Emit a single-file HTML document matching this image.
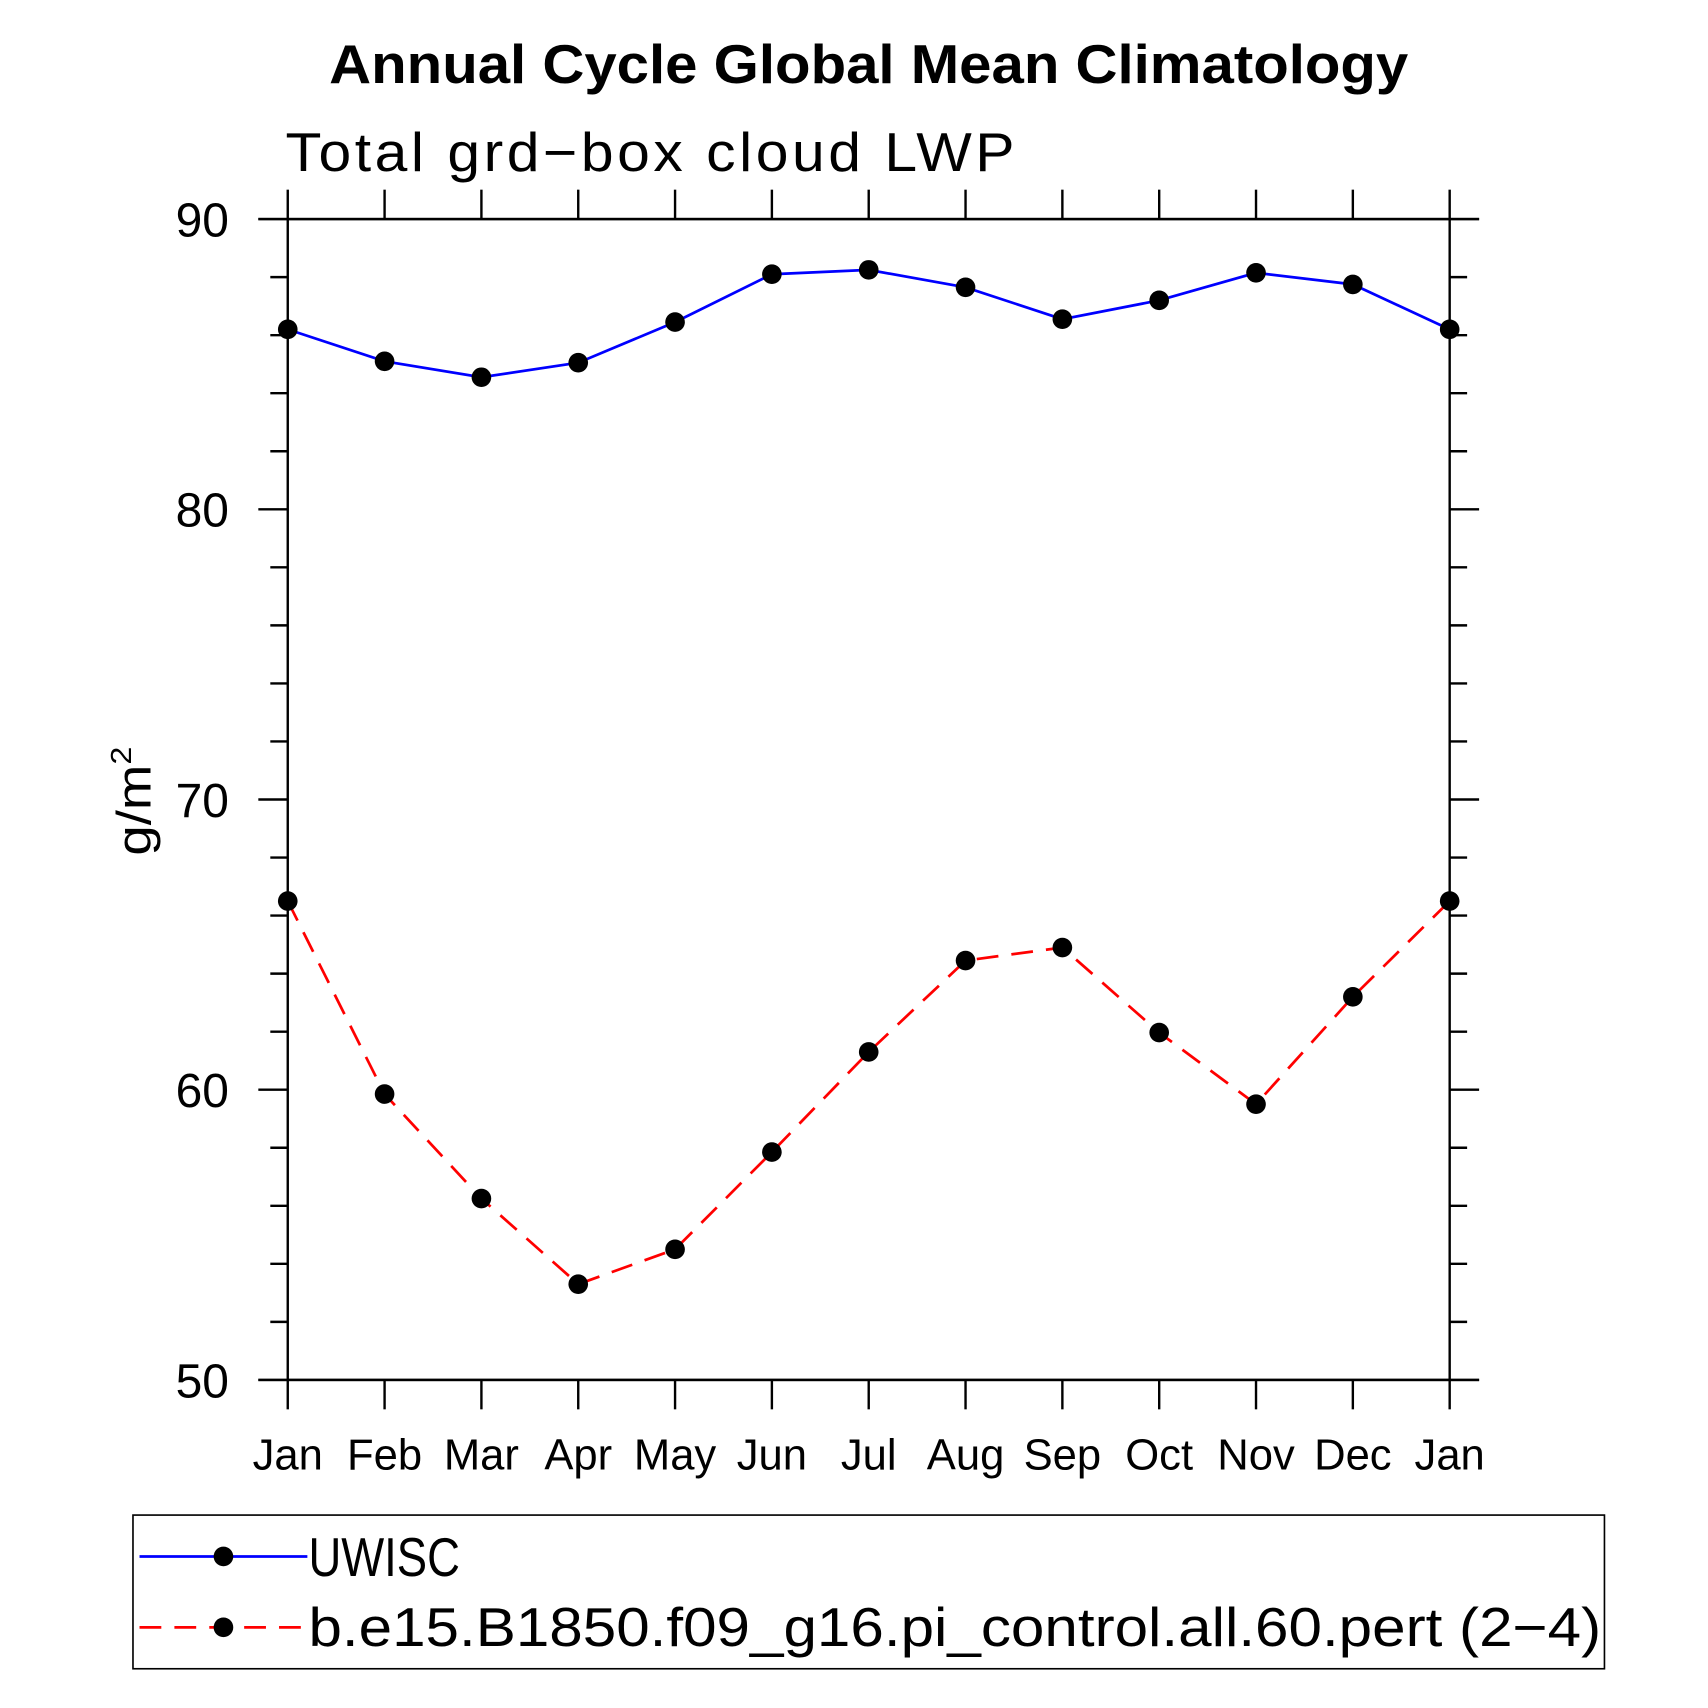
<!DOCTYPE html>
<html><head><meta charset="utf-8"><style>
html,body{margin:0;padding:0;background:#fff}
svg{display:block}
text{font-family:"Liberation Sans",sans-serif}
</style></head><body>
<svg id="chart" width="1708" height="1708" viewBox="0 0 1567 1567" xmlns="http://www.w3.org/2000/svg">
<text x="797" y="76" font-size="50" font-weight="bold" text-anchor="middle" textLength="990" lengthAdjust="spacingAndGlyphs">Annual Cycle Global Mean Climatology</text>
<text x="262" y="157" font-size="50" font-weight="300" letter-spacing="3" textLength="672" lengthAdjust="spacingAndGlyphs">Total grd−box cloud LWP</text>
<text transform="translate(138,735) rotate(-90)" font-size="44" text-anchor="middle" textLength="100" lengthAdjust="spacingAndGlyphs">g/m<tspan font-size="26" dy="-18">2</tspan></text>
<g id="axes"></g>
<g id="series"></g>
<rect x="122" y="1390" width="1350" height="141" fill="none" stroke="#000" stroke-width="1.5"/>
<g>
<line x1="128" y1="1428" x2="282" y2="1428" stroke="#00f" stroke-width="2.5"/>
<circle cx="205" cy="1428" r="9"/>
<text x="283" y="1446" font-size="50" font-weight="300" textLength="139" lengthAdjust="spacingAndGlyphs">UWISC</text>
</g>
<g>
<line x1="128" y1="1493" x2="282" y2="1493" stroke="#f00" stroke-width="2.5" stroke-dasharray="20,12"/>
<circle cx="205" cy="1493" r="9"/>
<text x="283" y="1510" font-size="50" font-weight="300" textLength="1186" lengthAdjust="spacingAndGlyphs">b.e15.B1850.f09_g16.pi_control.all.60.pert (2−4)</text>
</g>
</svg>
<script>
const months = ["Jan","Feb","Mar","Apr","May","Jun","Jul","Aug","Sep","Oct","Nov","Dec","Jan"];
const uwisc = [86.2,85.1,84.55,85.05,86.45,88.1,88.25,87.65,86.55,87.2,88.15,87.75,86.2];
const model = [66.5,59.85,56.25,53.3,54.5,57.85,61.3,64.45,64.9,61.97,59.5,63.2,66.5];
const yTicks = [50,60,70,80,90];
const yMin = 50, yMax = 90;
const L=264,R=1330,T=201,B=1266;
const NS="http://www.w3.org/2000/svg";
function X(i){return L+(R-L)*i/(months.length-1);}
function Y(v){return B-(B-T)*(v-yMin)/(yMax-yMin);}
function mk(tag,attrs,parent){const e=document.createElementNS(NS,tag);for(const k in attrs)e.setAttribute(k,attrs[k]);parent.appendChild(e);return e;}
const ax=document.getElementById('axes');
const st={stroke:"#000","stroke-width":2.2};
let e;
e=mk('rect',{x:L,y:T,width:R-L,height:B-T,fill:"none",stroke:"#000","stroke-width":2.2},ax);


e=mk('line',Object.assign({x1:237,x2:1357,y1:T,y2:T},st),ax);


e=mk('line',Object.assign({x1:237,x2:1357,y1:B,y2:B},st),ax);


for(let v=yMin; v<=yMax; v+=2){
  const y=Y(v);
  const major = yTicks.indexOf(v)>=0;
  if(major){
    e=mk('line',Object.assign({x1:237,x2:L,y1:y,y2:y},st),ax);
    
    
    e=mk('line',Object.assign({x1:R,x2:1357,y1:y,y2:y},st),ax);
    
    
  } else {
    e=mk('line',Object.assign({x1:248,x2:L,y1:y,y2:y},st),ax);
    
    
    e=mk('line',Object.assign({x1:R,x2:1346,y1:y,y2:y},st),ax);
    
    
  }
}
yTicks.forEach(v=>{
  e=mk('text',{x:210,y:Y(v)+16,"font-size":44,"font-weight":300,"text-anchor":"end"},ax);
  e.textContent=v;
  
  
});
months.forEach((m,i)=>{
  const x=X(i);
  e=mk('line',Object.assign({x1:x,x2:x,y1:174,y2:T},st),ax);
  
  
  e=mk('line',Object.assign({x1:x,x2:x,y1:B,y2:1293},st),ax);
  
  
  e=mk('text',{x:x,y:1348,"font-size":40,"font-weight":300,"text-anchor":"middle"},ax);
  e.textContent=m;
  
  
});
const sg=document.getElementById('series');
function series(vals,color,dash,name){
  const p=mk('polyline',{points:vals.map((v,i)=>X(i)+","+Y(v)).join(" "),fill:"none",stroke:color,"stroke-width":2.5,"stroke-dasharray":dash},sg);
  
  
  vals.forEach((v,i)=>{
    const c=mk('circle',{cx:X(i),cy:Y(v),r:9,fill:"#000"},sg);
    
    
  });
}
series(uwisc,"#00f","none","uwisc");
series(model,"#f00","20,12","model");
</script>
</body></html>
